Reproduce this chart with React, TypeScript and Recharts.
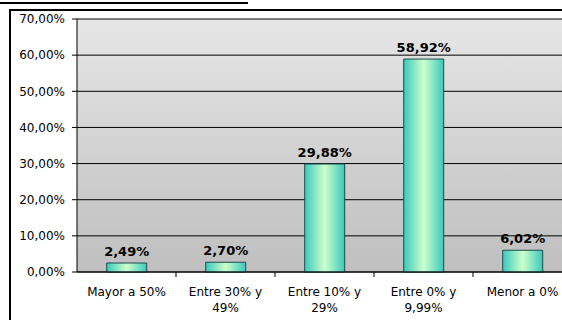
import React from "react";
import { BarChart, Bar, XAxis, YAxis, CartesianGrid, LabelList } from "recharts";

const categories = ["Mayor a 50%", "Entre 30% y 49%", "Entre 10% y 29%", "Entre 0% y 9,99%", "Menor a 0%"];
const values = [2.49, 2.7, 29.88, 58.92, 6.02];
const yTicks = [0, 10, 20, 30, 40, 50, 60, 70];

const data = categories.map((c, i) => ({ name: c, value: values[i] }));

const FONT = "'DejaVu Sans', Verdana, sans-serif";
const fmt = (v: number) => v.toFixed(2).replace(".", ",") + "%";

const XTick = (props: any) => {
  const { x, y, payload, width, visibleTicksCount, index } = props;
  const label: string = payload.value;
  const idx = label.indexOf(" y ");
  const lines = idx >= 0 ? [label.slice(0, idx + 2), label.slice(idx + 3)] : [label];
  const band = width / visibleTicksCount;
  return (
    <g>
      {index < visibleTicksCount - 1 && (
        <line x1={x + band / 2} x2={x + band / 2} y1={272} y2={277} stroke="#000" />
      )}
      <text x={x} y={296} textAnchor="middle" fontFamily={FONT} fontSize={12} fill="#000">
        {lines.map((l, i) => (
          <tspan key={i} x={x} dy={i === 0 ? 0 : 15.5}>
            {l}
          </tspan>
        ))}
      </text>
    </g>
  );
};

export default function App() {
  return (
    <div style={{ position: "fixed", left: 0, top: 0, width: 562, height: 320, overflow: "hidden", background: "#fff" }}>
      <div style={{ position: "absolute", left: 0, top: 2, width: 248, height: 0, borderTop: "2px solid #000" }} />
      <div style={{ position: "absolute", left: 9, top: 9, width: 700, height: 500, border: "2px solid #000", boxSizing: "border-box" }} />
      <div style={{ position: "absolute", left: 0, top: 0 }}>
        <BarChart
          width={580}
          height={330}
          data={data}
          margin={{ top: 19, right: 8, left: 0, bottom: 8 }}
          barCategoryGap="30%"
        >
          <defs>
            <linearGradient id="bgGrad" x1="0" y1="0" x2="0" y2="1">
              <stop offset="0%" stopColor="#e6e6e6" />
              <stop offset="100%" stopColor="#bfbfbf" />
            </linearGradient>
            <linearGradient id="barGrad" x1="0" y1="0" x2="1" y2="0">
              <stop offset="0%" stopColor="#3cc9bd" />
              <stop offset="50%" stopColor="#ccffcc" />
              <stop offset="100%" stopColor="#3cc9bd" />
            </linearGradient>
          </defs>
          <CartesianGrid vertical={false} stroke="#000" strokeOpacity={1} fill="url(#bgGrad)" fillOpacity={1} />
          <XAxis
            dataKey="name"
            height={50}
            axisLine={{ stroke: "#000" }}
            tickLine={false}
            interval={0}
            tick={<XTick />}
          />
          <YAxis
            width={77}
            domain={[0, 70]}
            ticks={yTicks}
            tickFormatter={fmt}
            axisLine={{ stroke: "#000" }}
            tickLine={{ stroke: "#000" }}
            tickSize={5}
            tickMargin={7}
            tick={{ fontFamily: FONT, fontSize: 12, fill: "#000" }}
          />
          <Bar dataKey="value" fill="url(#barGrad)" stroke="#1f4a4a" strokeWidth={1} isAnimationActive={false}>
            <LabelList
              dataKey="value"
              position="top"
              offset={7}
              formatter={(v: any) => fmt(Number(v))}
              style={{ fontFamily: FONT, fontSize: 13, fontWeight: "bold", fill: "#000" }}
            />
          </Bar>
        </BarChart>
      </div>
    </div>
  );
}
